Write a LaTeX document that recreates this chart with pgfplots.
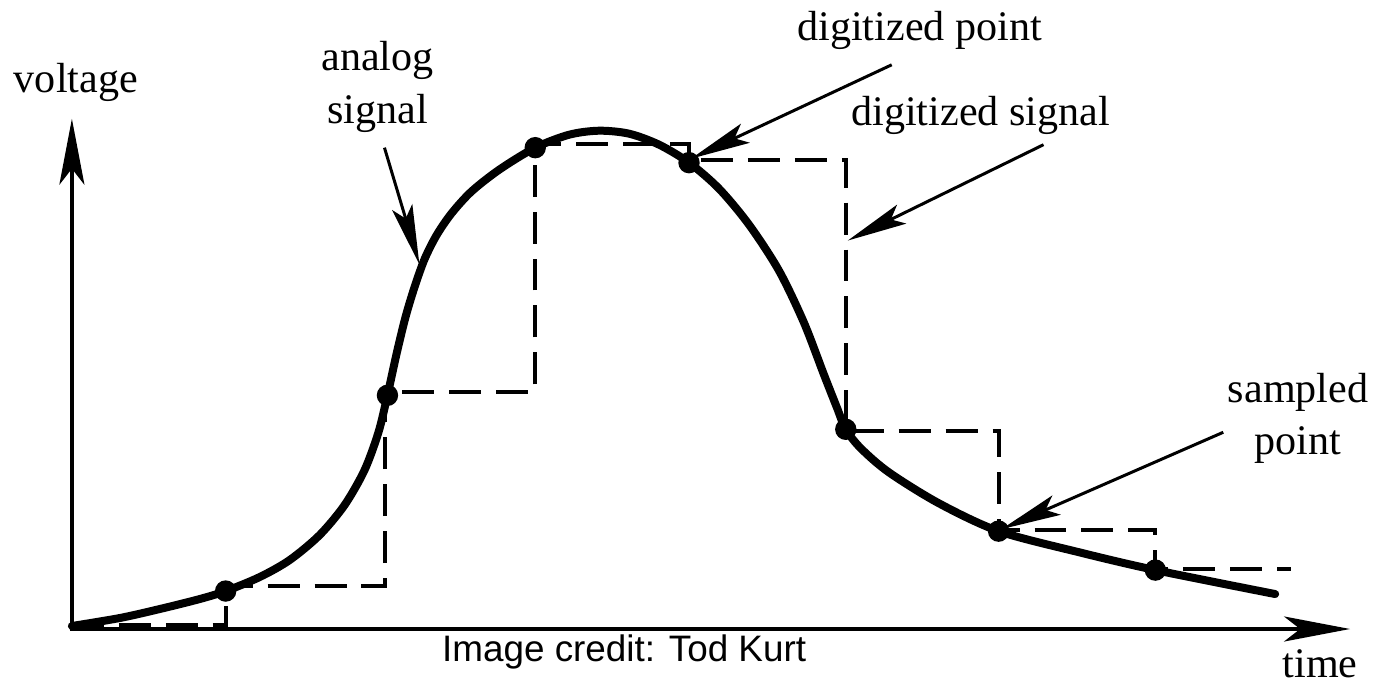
\documentclass[border=0pt]{standalone}
\usepackage{pgfplots}
\pgfplotsset{compat=1.18}
\usepackage{fontspec}
\setmainfont{Liberation Serif}
\newfontfamily\arial{Liberation Sans}
\usetikzlibrary{arrows.meta}
\begin{document}
\begin{tikzpicture}
\begin{axis}[scale only axis, width=138mm, height=68.2mm,
  xmin=0, xmax=1380, ymin=0, ymax=682, y dir=reverse,
  hide axis, clip=false]
% axes
\addplot[black, line width=0.45mm, -{Stealth[length=6.6mm,width=2.5mm,inset=1.6mm]}] coordinates {(72,628) (72,116)};
\addplot[black, line width=0.45mm, -{Stealth[length=6.6mm,width=2.5mm,inset=1.6mm]}] coordinates {(70,627) (1352,627)};
% digitized signal
\addplot[black, line width=0.4mm, dash pattern=on 3.2mm off 1.5mm] coordinates {
(72,623)(226,623)(226,584)(386,584)(386,390)(536,390)(536,141)(690,141)(690,157)(847,157)(847,429)(1000,429)(1000,528)(1157,528)(1157,567)(1293,567)};
% analog signal
\addplot[black, line width=0.8mm, line cap=round, smooth, tension=0.5] coordinates {
(72,624)(120,616)(160,607)(200,597)(226,589)(260,575)(290,558)(320,533)(345,503)(365,468)(379,430)(388,393)(397,352)(406,315)(415,285)(425,257)(437,233)(452,211)(472,189)(500,167)(536,145)(570,132)(600,128)(630,131)(660,142)(690,160)(720,186)(750,222)(780,268)(805,320)(825,372)(838,405)(847,427)(862,446)(890,470)(940,501)(1000,529)(1080,550)(1157,568)(1277,592)};
% sampled points
\addplot[only marks, mark=*, mark size=1mm, black] coordinates {
(226,589)(388,393)(536,145)(690,160)(847,427)(1000,529)(1157,568)};
% annotation arrows
\draw[line width=0.3mm, -{Stealth[length=6mm,width=2.1mm,inset=1.2mm]}] (axis cs:385,145) -- (axis cs:420,262);
\draw[line width=0.3mm, -{Stealth[length=6mm,width=2.1mm,inset=1.2mm]}] (axis cs:893,62) -- (axis cs:692,156);
\draw[line width=0.3mm, -{Stealth[length=6mm,width=2.1mm,inset=1.2mm]}] (axis cs:1045,142) -- (axis cs:849,238);
\draw[line width=0.3mm, -{Stealth[length=6mm,width=2.1mm,inset=1.2mm]}] (axis cs:1225,430) -- (axis cs:1003,527);
% labels
\node[font=\fontsize{12}{14}\selectfont] at (axis cs:76,80) {voltage};
\node[font=\fontsize{12}{14}\selectfont] at (axis cs:1322,662) {time};
\node[font=\fontsize{12}{14}\selectfont, align=center] at (axis cs:378,84) {analog\\[1pt]signal};
\node[font=\fontsize{12}{14}\selectfont] at (axis cs:921,28) {digitized point};
\node[font=\fontsize{12}{14}\selectfont] at (axis cs:982,113) {digitized signal};
\node[font=\fontsize{12}{14}\selectfont, align=center] at (axis cs:1300,416) {sampled\\[1pt]point};
\node[font=\arial\fontsize{10.5}{12}\selectfont] at (axis cs:625,650) {Image credit: Tod Kurt};
\path (rel axis cs:0,0) rectangle (rel axis cs:1,1);
\end{axis}
\end{tikzpicture}
\end{document}
